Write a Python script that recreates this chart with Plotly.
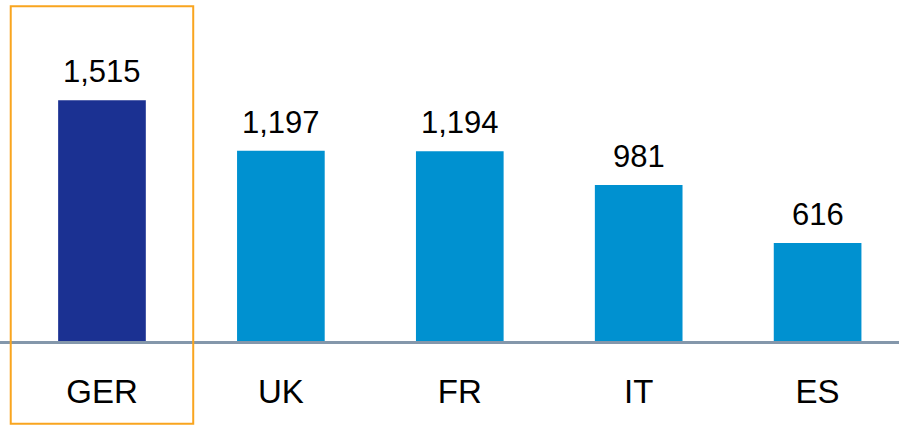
import plotly.graph_objects as go

categories = ["GER", "UK", "FR", "IT", "ES"]
values = [1515, 1197, 1194, 981, 616]
value_labels = ["1,515", "1,197", "1,194", "981", "616"]
bar_colors = ["#1b3192", "#0091d0", "#0091d0", "#0091d0", "#0091d0"]

xs = list(range(len(categories)))

fig = go.Figure()
fig.add_trace(go.Bar(
    x=xs, y=values, width=0.49,
    marker=dict(color=bar_colors, line=dict(width=0)),
    hoverinfo="skip",
))

for x, v, t in zip(xs, values, value_labels):
    fig.add_annotation(x=x, y=v, text=t, showarrow=False, yanchor="bottom",
                       yshift=9, font=dict(family="Liberation Sans, Arial", size=31, color="#000000"))

# highlight box around first category
fig.add_shape(type="rect", xref="x", yref="paper", x0=-0.51, x1=0.51, y0=-0.243, y1=0.982,
              line=dict(color="#f9a51f", width=2), fillcolor="rgba(0,0,0,0)", layer="above")

fig.update_layout(
    width=899, height=425,
    margin=dict(l=0, r=0, t=0, b=84, autoexpand=False),
    paper_bgcolor="white", plot_bgcolor="white",
    showlegend=False,
    font=dict(family="Liberation Sans, Arial", color="#000000"),
    xaxis=dict(
        range=[-0.570, 4.455], tickmode="array", tickvals=xs, ticktext=categories,
        showgrid=False, zeroline=False, showline=True, linecolor="#8497ab", linewidth=3,
        ticks="", tickfont=dict(size=33, color="#000000"), ticklabelstandoff=19,
        automargin=False,
    ),
    yaxis=dict(range=[0, 2145], visible=False, showgrid=False, zeroline=False, automargin=False),
)

fig.write_html("out.html", config={"displayModeBar": False},
               post_script="document.body.style.margin='0';document.body.style.overflow='hidden';")
